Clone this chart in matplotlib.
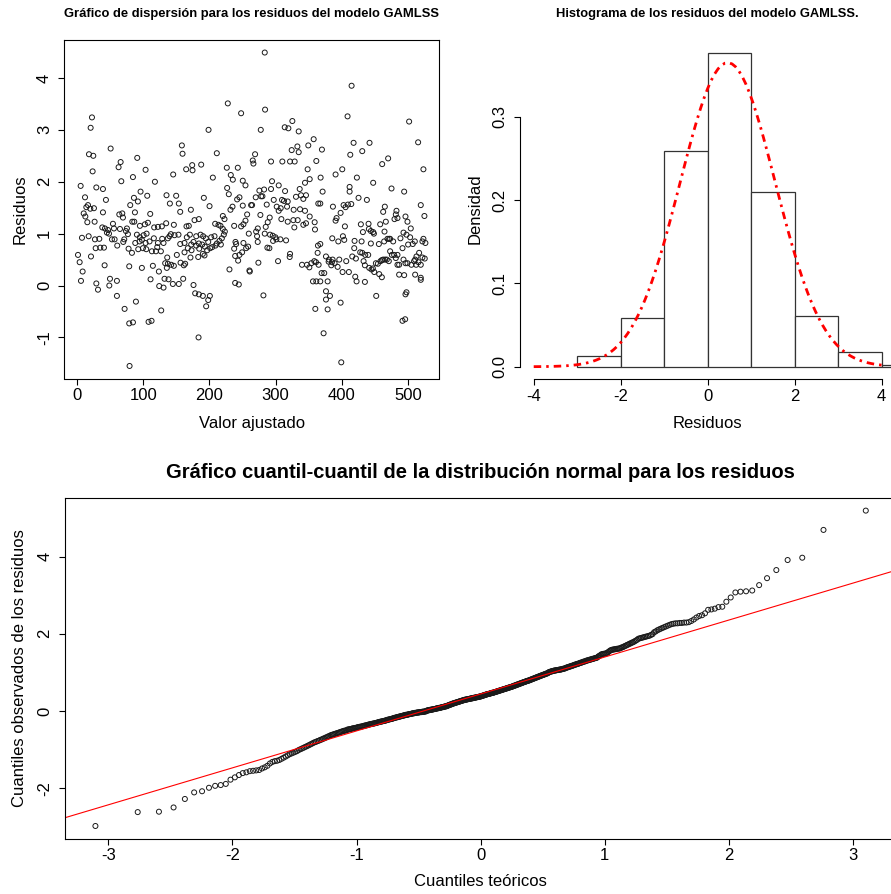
import matplotlib
matplotlib.use("Agg")
import matplotlib.pyplot as plt
import numpy as np
from statistics import NormalDist

plt.rcParams['font.family'] = ['Liberation Sans', 'DejaVu Sans']
plt.rcParams['axes.unicode_minus'] = False

# --- datos ---
# dispersion: (valor ajustado, residuo)
dispersion = [
    (22.6, 3.24), (20.6, 3.04), (50.8, 2.64), (18.1, 2.53), (24.6, 2.50), (65.9, 2.38), (62.8, 2.28), (23.6, 2.20),
    (66.9, 2.01), (5.5, 1.92), (29.2, 1.89), (39.2, 1.86), (12.1, 1.70), (43.7, 1.65), (16.6, 1.55), (14.1, 1.51),
    (20.1, 1.48), (25.6, 1.49), (10.1, 1.39), (12.6, 1.33), (39.2, 1.41), (63.9, 1.37), (68.4, 1.39), (69.4, 1.31),
    (15.6, 1.22), (26.6, 1.23), (54.3, 1.19), (38.2, 1.12), (42.2, 1.10), (46.8, 1.07), (55.8, 1.10), (64.9, 1.09),
    (45.2, 1.02), (48.3, 1.00), (7.5, 0.92), (17.6, 0.95), (33.7, 0.90), (52.8, 0.89), (56.8, 0.89), (71.4, 0.89),
    (27.1, 0.89), (69.9, 0.84), (60.8, 0.77), (35.2, 0.73), (28.2, 0.72), (40.7, 0.73), (1.5, 0.59), (21.1, 0.56),
    (4.0, 0.45), (41.7, 0.39), (8.5, 0.27), (6.0, 0.09), (29.2, 0.04), (49.8, 0.13), (48.8, 0.00), (60.3, 0.09),
    (31.7, -0.08), (60.3, -0.20), (71.9, -0.45),
    (158.4, 2.70), (159.4, 2.54), (91.0, 2.46), (164.9, 2.24), (145.3, 2.14), (84.5, 2.09), (103.6, 2.23), (117.7, 2.00),
    (96.0, 1.81), (106.1, 1.73), (86.0, 1.69), (92.0, 1.62), (80.4, 1.55), (135.2, 1.74), (149.8, 1.73), (140.3, 1.58),
    (153.8, 1.58), (87.5, 1.41), (110.6, 1.38), (155.9, 1.42), (83.5, 1.23), (86.5, 1.23), (107.1, 1.21), (102.6, 1.18),
    (146.3, 1.17), (134.7, 1.20), (122.2, 1.13), (165.4, 1.14), (168.9, 1.15), (75.4, 1.10), (95.0, 1.15), (116.6, 1.12),
    (128.2, 1.14), (141.8, 0.99), (147.3, 0.97), (139.8, 0.95), (137.3, 0.91), (76.9, 0.99), (73.9, 1.05), (105.1, 1.00),
    (100.6, 0.97), (90.5, 0.98), (95.0, 0.93), (98.0, 0.88), (103.6, 0.82), (99.6, 0.72), (94.5, 0.85), (88.0, 0.82),
    (165.9, 0.93), (153.3, 0.98), (162.4, 0.82), (116.1, 0.91), (109.6, 0.85), (128.7, 0.90), (130.7, 0.82), (122.2, 0.82),
    (155.9, 0.80), (113.1, 0.66), (119.2, 0.66), (126.7, 0.66), (121.2, 0.74), (77.9, 0.71), (92.5, 0.70), (104.6, 0.70),
    (83.0, 0.63), (167.4, 0.72), (162.4, 0.64), (136.3, 0.54), (150.8, 0.59), (137.3, 0.42), (133.2, 0.43), (142.3, 0.40),
    (156.4, 0.44), (146.3, 0.38), (78.9, 0.37), (114.6, 0.38), (161.4, 0.39), (163.4, 0.42), (98.0, 0.34), (123.7, 0.27),
    (135.7, 0.34), (111.1, 0.12), (132.2, 0.13), (138.3, 0.12), (144.8, 0.03), (153.8, 0.03), (160.4, 0.13), (124.2, -0.01),
    (130.7, -0.04), (89.0, -0.31), (127.2, -0.48), (78.9, -0.73), (84.5, -0.71), (108.1, -0.70), (112.6, -0.68), (79.4, -1.55),
    (171.4, 0.54), (176.0, 0.01),
    (227.8, 3.51), (247.9, 3.32), (198.7, 3.00), (211.2, 2.55), (265.5, 2.41), (266.5, 2.35), (174.0, 2.32), (174.5, 2.22),
    (187.6, 2.33), (205.2, 2.08), (226.3, 2.27), (232.3, 2.13), (235.4, 2.04), (242.9, 2.27), (250.4, 2.02), (254.5, 1.93),
    (226.8, 1.88), (229.3, 1.76), (191.6, 1.69), (245.4, 1.70), (241.9, 1.66), (234.9, 1.52), (231.8, 1.46), (200.2, 1.53),
    (250.4, 1.54), (263.0, 1.55), (264.5, 1.55), (220.3, 1.34), (222.8, 1.28), (257.0, 1.37), (172.0, 1.46), (177.5, 1.26),
    (184.1, 1.28), (208.7, 1.19), (213.7, 1.17), (216.8, 1.15), (220.3, 1.09), (223.3, 1.04), (237.4, 1.15), (247.9, 1.14),
    (251.4, 1.18), (254.5, 1.25), (259.5, 1.00), (221.8, 0.98), (218.8, 0.91), (215.2, 0.86), (211.2, 0.81), (209.2, 0.77),
    (204.2, 0.74), (201.2, 0.72), (196.6, 0.68), (193.1, 0.75), (189.1, 0.79), (184.1, 0.81), (180.1, 0.77), (176.0, 0.84),
    (172.5, 0.79), (170.5, 0.98), (180.1, 0.95), (186.6, 0.98), (190.6, 0.95), (194.6, 0.91), (198.2, 0.84), (202.7, 0.93),
    (207.7, 0.95), (217.3, 0.79), (184.6, 0.71), (190.1, 0.61), (183.1, 0.55), (192.6, 0.58), (173.0, 0.68), (239.4, 0.84),
    (240.4, 0.80), (251.4, 0.82), (258.5, 0.75), (255.5, 0.72), (249.4, 0.64), (245.4, 0.59), (243.4, 0.48), (237.4, 0.71),
    (238.9, 0.57), (260.5, 0.29), (261.0, 0.27), (230.3, 0.31), (238.9, 0.05), (244.4, 0.02), (178.5, -0.15), (184.1, -0.17),
    (190.1, -0.20), (200.7, -0.20), (198.2, -0.28), (195.1, -0.40), (183.6, -1.00),
    (283.6, 4.49), (284.1, 3.39), (277.6, 3.00), (313.8, 3.05), (319.3, 3.03), (325.3, 3.17), (334.9, 2.97), (357.5, 2.82),
    (349.4, 2.70), (332.9, 2.68), (334.9, 2.57), (324.3, 2.61), (269.0, 2.53), (293.1, 2.39), (310.2, 2.39), (321.8, 2.39),
    (328.8, 2.39), (361.5, 2.40), (348.4, 2.24), (351.5, 2.05), (344.4, 1.98), (336.4, 1.86), (294.6, 2.01), (304.7, 1.93),
    (282.6, 1.85), (275.5, 1.83), (293.1, 1.86), (314.3, 1.82), (278.1, 1.72), (280.1, 1.72), (270.0, 1.70), (297.2, 1.65),
    (309.7, 1.65), (312.7, 1.63), (318.3, 1.62), (338.4, 1.74), (345.9, 1.74), (341.9, 1.67), (330.8, 1.71), (286.6, 1.56),
    (301.7, 1.52), (304.7, 1.44), (307.7, 1.49), (317.3, 1.52), (327.3, 1.46), (336.9, 1.47), (344.4, 1.44), (364.5, 1.58),
    (277.0, 1.36), (291.1, 1.31), (308.7, 1.28), (318.3, 1.23), (326.8, 1.26), (333.4, 1.26), (288.1, 1.22), (328.3, 1.12),
    (341.9, 1.17), (345.9, 1.20), (351.5, 1.33), (285.1, 1.13), (283.6, 1.00), (291.6, 0.98), (295.7, 0.96), (299.7, 0.93),
    (301.2, 0.89), (307.2, 0.89), (296.2, 0.86), (315.8, 0.87), (359.0, 1.22), (359.5, 1.08), (272.0, 0.95), (273.0, 0.84),
    (287.6, 0.73), (290.6, 0.72), (321.8, 0.61), (321.3, 0.55), (303.7, 0.47), (274.0, 0.44), (364.0, 0.77), (363.5, 0.63),
    (339.9, 0.40), (347.4, 0.40), (351.0, 0.35), (354.0, 0.43), (358.5, 0.47), (361.0, 0.45), (365.0, 0.40), (356.5, 0.08),
    (361.5, 0.08), (367.5, 0.08), (281.6, -0.19), (360.0, -0.45), (273.1, 1.10), (270.6, 1.04),
    (414.8, 3.85), (408.7, 3.26), (417.8, 2.75), (441.9, 2.75), (370.0, 2.62), (412.8, 2.52), (430.9, 2.59), (461.0, 2.34),
    (390.6, 2.14), (400.7, 2.24), (368.0, 2.08), (422.8, 2.08), (447.4, 1.98), (411.8, 1.90), (411.8, 1.81), (371.0, 1.81),
    (425.3, 1.69), (437.9, 1.65), (367.5, 1.58), (386.6, 1.52), (402.7, 1.55), (405.7, 1.51), (409.2, 1.56), (414.3, 1.57),
    (462.5, 1.42), (398.2, 1.40), (392.1, 1.30), (390.6, 1.25), (404.7, 1.14), (428.8, 1.18), (440.4, 1.19), (431.9, 1.03),
    (440.9, 1.09), (443.9, 1.05), (447.4, 1.03), (448.5, 1.00), (458.0, 1.18), (385.6, 0.91), (394.7, 0.85), (403.7, 0.88),
    (401.7, 0.95), (419.3, 0.86), (429.9, 0.85), (443.9, 0.81), (456.0, 0.80), (367.5, 0.80), (418.8, 0.72), (427.8, 0.64),
    (430.9, 0.63), (435.4, 0.59), (439.9, 0.59), (415.8, 0.56), (421.3, 0.52), (376.1, 0.56), (380.6, 0.50), (386.1, 0.50),
    (389.1, 0.43), (384.1, 0.39), (380.1, 0.46), (385.1, 0.45), (396.2, 0.50), (462.5, 0.50), (406.7, 0.47), (451.5, 0.43),
    (454.5, 0.42), (458.5, 0.47), (460.5, 0.49), (432.9, 0.47), (434.9, 0.39), (446.9, 0.33), (449.0, 0.26), (444.9, 0.31),
    (441.4, 0.34), (393.7, 0.36), (401.2, 0.26), (410.7, 0.26), (420.3, 0.17), (422.3, 0.08), (434.9, 0.07), (456.5, 0.22),
    (460.5, 0.16), (369.5, 0.24), (373.5, 0.24), (378.6, 0.08), (376.1, -0.11), (382.1, -0.20), (376.1, -0.27), (378.6, -0.46),
    (452.0, -0.20), (398.2, -0.33), (372.5, -0.92), (399.2, -1.48), (464.5, 1.04), (465.5, 0.50),
    (501.7, 3.16), (515.3, 2.76), (523.3, 2.24), (470.0, 2.45), (475.1, 1.87), (494.2, 1.81), (519.3, 1.55), (524.8, 1.34),
    (465.0, 1.52), (482.6, 1.44), (481.6, 1.37), (479.6, 1.28), (484.1, 1.30), (466.5, 1.23), (496.2, 1.33), (499.2, 1.23),
    (504.2, 1.10), (493.2, 1.02), (497.7, 0.98), (503.2, 0.93), (500.2, 0.79), (510.3, 0.85), (507.2, 0.80), (523.3, 0.90),
    (521.8, 0.85), (526.3, 0.82), (469.0, 0.90), (471.5, 0.90), (473.0, 0.90), (488.6, 0.91), (477.6, 0.85), (464.0, 0.85),
    (516.8, 0.63), (512.8, 0.56), (510.8, 0.50), (521.8, 0.54), (525.3, 0.52), (473.0, 0.66), (475.6, 0.59), (479.1, 0.59),
    (481.6, 0.53), (484.1, 0.59), (486.6, 0.40), (491.7, 0.72), (468.0, 0.50), (471.0, 0.47), (496.2, 0.43), (499.2, 0.43),
    (505.2, 0.40), (509.2, 0.47), (512.3, 0.40), (515.8, 0.45), (493.2, 0.50), (484.1, 0.40), (519.3, 0.40), (486.6, 0.21),
    (494.2, 0.20), (510.8, 0.21), (519.3, 0.15), (519.3, 0.11), (497.7, -0.13), (496.2, -0.17), (491.7, -0.68), (495.7, -0.65),
]

residuos = [
    -2.98, -2.62, -2.61, -2.50, -2.28, -2.11, -2.08,
    -1.99, -1.94, -1.92, -1.89, -1.78, -1.72, -1.66, -1.61, -1.59, -1.56,
    -1.55, -1.54, -1.53, -1.49, -1.46, -1.42, -1.36, -1.32, -1.30, -1.29,
    -1.27, -1.24, -1.21, -1.18, -1.15, -1.12, -1.10, -1.08, -1.06, -1.04, -1.01,
    -0.99, -0.97, -0.95, -0.93, -0.91, -0.89, -0.87, -0.85, -0.83,
    -0.81, -0.80, -0.78, -0.77, -0.75, -0.74, -0.72, -0.71, -0.69, -0.68, -0.66, -0.65, -0.63,
    -0.62, -0.61, -0.60, -0.59, -0.58, -0.57, -0.56, -0.55, -0.54, -0.53, -0.52, -0.51, -0.51, -0.50,
    -0.48, -0.48, -0.47, -0.47, -0.46, -0.45, -0.45, -0.44, -0.44, -0.43, -0.42, -0.42, -0.41, -0.41, -0.40, -0.40, -0.39,
    -0.38, -0.38, -0.37, -0.37, -0.36, -0.35, -0.35, -0.34, -0.34, -0.33, -0.33, -0.32, -0.32, -0.31, -0.31, -0.30,
    -0.29, -0.29, -0.28,
    -0.28, -0.27, -0.27, -0.26, -0.26, -0.25, -0.25, -0.24, -0.23, -0.23, -0.22, -0.22, -0.21, -0.21, -0.20, -0.20,
    -0.19, -0.18, -0.18, -0.17, -0.17, -0.16,
    -0.16, -0.15, -0.15, -0.14, -0.14, -0.13, -0.13, -0.12, -0.12, -0.11, -0.11, -0.10, -0.10, -0.10, -0.09, -0.09,
    -0.08, -0.08, -0.08, -0.07, -0.07, -0.06, -0.06,
    -0.06, -0.05, -0.05, -0.05, -0.04, -0.04, -0.04, -0.04, -0.03, -0.03, -0.03, -0.03, -0.02, -0.02, -0.02, -0.02,
    -0.01, -0.01, -0.01,
    0.01, 0.01, 0.02, 0.02, 0.02, 0.03, 0.03, 0.03, 0.04, 0.04, 0.04, 0.05, 0.05, 0.05, 0.06, 0.06, 0.07, 0.07, 0.07,
    0.08, 0.08, 0.08, 0.09, 0.09, 0.10, 0.10, 0.10, 0.11, 0.11, 0.12, 0.12, 0.12, 0.13,
    0.14, 0.14, 0.15, 0.16, 0.16, 0.17, 0.17, 0.18, 0.19, 0.19, 0.20, 0.20, 0.21, 0.21, 0.22, 0.22, 0.23, 0.23, 0.24,
    0.24, 0.25, 0.25, 0.26, 0.26, 0.27, 0.27, 0.28,
    0.28, 0.29, 0.29, 0.29, 0.30, 0.30, 0.30, 0.31, 0.31, 0.31, 0.32, 0.32, 0.32, 0.33, 0.33, 0.33, 0.34, 0.34, 0.34,
    0.35, 0.35, 0.35, 0.36, 0.36, 0.36, 0.37, 0.37, 0.37,
    0.38, 0.38, 0.39, 0.39, 0.40, 0.40, 0.41, 0.41, 0.42, 0.42, 0.43, 0.43, 0.44, 0.44, 0.44, 0.45, 0.45, 0.46, 0.46,
    0.47, 0.47, 0.47, 0.48, 0.48, 0.49, 0.49, 0.50, 0.50,
    0.51, 0.51, 0.52, 0.52, 0.53, 0.53, 0.54, 0.54, 0.55, 0.55, 0.56, 0.56, 0.57, 0.57, 0.58, 0.58, 0.59, 0.59, 0.60,
    0.60, 0.61, 0.61, 0.62, 0.62, 0.63, 0.63, 0.64, 0.65,
    0.65, 0.66, 0.66, 0.67, 0.68, 0.68, 0.69, 0.69, 0.70, 0.71, 0.71, 0.72, 0.72, 0.73, 0.74, 0.74, 0.75, 0.75, 0.76,
    0.77, 0.77, 0.78, 0.78, 0.79, 0.79, 0.80,
    0.81, 0.81, 0.82, 0.83, 0.83, 0.84, 0.85, 0.85, 0.86, 0.87, 0.87, 0.88, 0.89, 0.89, 0.90, 0.91, 0.91, 0.92, 0.93,
    0.93, 0.94, 0.95, 0.95, 0.96, 0.97, 0.97, 0.98, 0.99,
    1.01, 1.01, 1.02, 1.02, 1.03, 1.03, 1.04, 1.04, 1.05, 1.05, 1.05, 1.06, 1.06, 1.06, 1.07, 1.07, 1.07, 1.08, 1.08,
    1.09, 1.09,
    1.10, 1.10, 1.11, 1.12, 1.13, 1.13, 1.14, 1.15, 1.15, 1.16, 1.17, 1.17, 1.18, 1.19, 1.20, 1.20, 1.21, 1.22, 1.22,
    1.23, 1.24,
    1.25, 1.25, 1.26, 1.27, 1.28, 1.28, 1.29, 1.30, 1.31, 1.31, 1.32, 1.33, 1.33, 1.34, 1.35, 1.35, 1.36, 1.37, 1.37, 1.38,
    1.40, 1.42, 1.43, 1.45, 1.47, 1.47, 1.48, 1.48, 1.49, 1.49, 1.51, 1.53, 1.55, 1.57, 1.58,
    1.59, 1.59, 1.60, 1.60, 1.61, 1.61, 1.62, 1.62, 1.64, 1.65, 1.66, 1.68, 1.69, 1.71, 1.72, 1.74,
    1.75, 1.77, 1.78, 1.80, 1.82, 1.84, 1.87, 1.88, 1.89, 1.90, 1.91, 1.92, 1.93, 1.94, 1.95, 1.97, 1.99,
    2.04, 2.06, 2.09, 2.11, 2.13, 2.15, 2.17, 2.19, 2.21, 2.23, 2.25, 2.26, 2.27, 2.27, 2.28, 2.28, 2.29, 2.29,
    2.30, 2.33, 2.37, 2.42, 2.46, 2.48, 2.53, 2.62, 2.63, 2.65, 2.69, 2.70, 2.83, 2.94,
    3.07, 3.09, 3.10, 3.12, 3.26, 3.44, 3.65, 3.91, 3.97, 4.69, 5.19,
]

cortes_hist = [-3, -2, -1, 0, 1, 2, 3, 4, 5, 6]
media_normal = 0.46
desv_normal = 1.093
qq_intercepto = 0.44
qq_pendiente = 0.957

ticks_disp_x = [0, 100, 200, 300, 400, 500]
ticks_disp_y = [-1, 0, 1, 2, 3, 4]
ticks_hist_x = [-4, -2, 0, 2, 4]
ticks_hist_y = [0.0, 0.1, 0.2, 0.3]
ticks_qq_x = [-3, -2, -1, 0, 1, 2, 3]
ticks_qq_y = [-2, 0, 2, 4]

W, H = 891, 894


def caja(izq, der, arriba, abajo):
    return [izq / W, 1 - abajo / H, (der - izq) / W, (abajo - arriba) / H]


def estilo_ejes(ax):
    ax.tick_params(direction='out', length=4.3, width=0.8, labelsize=12, pad=2.5, colors='black')
    ax.tick_params(axis='y', pad=4.5)
    for lbl in ax.get_yticklabels():
        lbl.set_rotation(90)
        lbl.set_va('center')


fig = plt.figure(figsize=(W / 100, H / 100), dpi=100)

# --- dispersion ---
ax1 = fig.add_axes(caja(64.1, 439.3, 40, 378.5))
ajustado, resid_disp = zip(*dispersion)
ax1.scatter(ajustado, resid_disp, s=13, facecolors='none', edgecolors='#1a1a1a', linewidths=0.7)
ax1.margins(0.04)
ax1.set_xticks(ticks_disp_x)
ax1.set_yticks(ticks_disp_y)
estilo_ejes(ax1)
for s in ax1.spines.values():
    s.set_linewidth(0.8)
fig.text(251.7 / W, 1 - 14 / H, 'Gráfico de dispersión para los residuos del modelo GAMLSS',
         ha='center', va='center', fontsize=9.4, fontweight='bold')
fig.text(251.7 / W, 1 - 423 / H, 'Valor ajustado', ha='center', va='center', fontsize=12)
fig.text(20 / W, 1 - 209 / H, 'Residuos', ha='center', va='center', fontsize=12, rotation=90)

# --- histograma ---
ax2 = fig.add_axes(caja(519.8, 895.6, 40, 379.3))
ax2.hist(residuos, bins=cortes_hist, density=True, facecolor='white', edgecolor='#333333', linewidth=0.9)
xs = np.linspace(-4, 4, 101)
normal = NormalDist(media_normal, desv_normal)
ax2.plot(xs, [normal.pdf(v) for v in xs], color='red', lw=2, linestyle=(0, (2.7, 1.8, 0.9, 1.8)))
ax2.set_xlim(-4.32, 4.32)
ax2.set_ylim(-0.0151, 0.3922)
ax2.set_xticks(ticks_hist_x)
ax2.set_yticks(ticks_hist_y)
estilo_ejes(ax2)
for k in ['top', 'right']:
    ax2.spines[k].set_visible(False)
ax2.spines['left'].set_bounds(0, 0.3)
ax2.spines['bottom'].set_bounds(-4, 4)
for k in ['left', 'bottom']:
    ax2.spines[k].set_linewidth(0.8)
fig.text(707.7 / W, 1 - 14 / H, 'Histograma de los residuos del modelo GAMLSS.',
         ha='center', va='center', fontsize=9.3, fontweight='bold')
fig.text(707.7 / W, 1 - 423 / H, 'Residuos', ha='center', va='center', fontsize=12)
fig.text(475 / W, 1 - 209 / H, 'Densidad', ha='center', va='center', fontsize=12, rotation=90)

# --- cuantil-cuantil ---
ax3 = fig.add_axes(caja(64.6, 896.6, 498, 838.6))
n = len(residuos)
teoricos = [NormalDist().inv_cdf((i - 0.5) / n) for i in range(1, n + 1)]
ax3.scatter(teoricos, sorted(residuos), s=13, facecolors='none', edgecolors='#1a1a1a', linewidths=0.7)
ax3.axline((0, qq_intercepto), slope=qq_pendiente, color='red', lw=0.8)
ax3.margins(0.04)
ax3.set_xticks(ticks_qq_x)
ax3.set_yticks(ticks_qq_y)
estilo_ejes(ax3)
for s in ax3.spines.values():
    s.set_linewidth(0.8)
fig.text(480.6 / W, 1 - 472 / H, 'Gráfico cuantil-cuantil de la distribución normal para los residuos',
         ha='center', va='center', fontsize=14.5, fontweight='bold')
fig.text(480.6 / W, 1 - 881 / H, 'Cuantiles teóricos', ha='center', va='center', fontsize=12)
fig.text(20 / W, 1 - 668 / H, 'Cuantiles observados de los residuos', ha='center', va='center',
         fontsize=12, rotation=90)

fig.savefig('out.png', dpi=100)
